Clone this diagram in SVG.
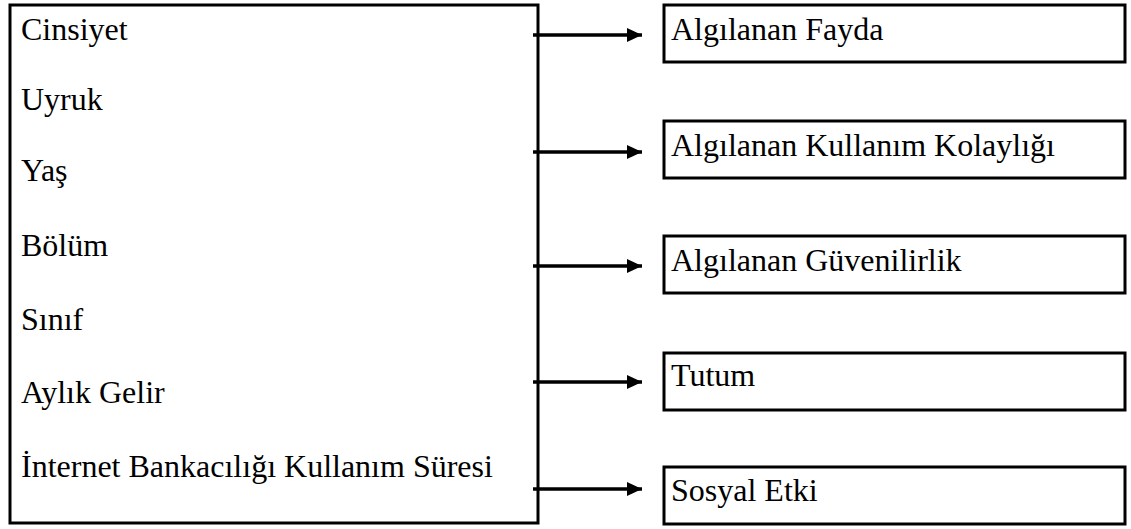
<svg xmlns="http://www.w3.org/2000/svg" width="1131" height="529" viewBox="0 0 1131 529">
<style>
.box{fill:#fff;stroke:#000;stroke-width:3}
.t{font-family:"Liberation Serif","Times New Roman",serif;font-size:32px;fill:#000}
.c{stroke:#000;stroke-width:3.5;fill:none}
</style>
<defs>
<marker id="ah" markerWidth="16" markerHeight="16" refX="15" refY="7" orient="auto" markerUnits="userSpaceOnUse">
<path d="M0,0 L15,7 L0,14 Z" fill="#000"/>
</marker>
</defs>
<rect width="1131" height="529" fill="#fff"/>
<g id="demografik">
<rect class="box" x="10" y="5" width="528" height="518"/>
<text class="t" x="21" y="40">Cinsiyet</text>
<text class="t" x="21" y="110">Uyruk</text>
<text class="t" x="21" y="181">Yaş</text>
<text class="t" x="21" y="256">Bölüm</text>
<text class="t" x="21" y="330">Sınıf</text>
<text class="t" x="21" y="403">Aylık Gelir</text>
<text class="t" x="21" y="477">İnternet Bankacılığı Kullanım Süresi</text>
</g>
<g id="fayda">
<rect class="box" x="664" y="5" width="461" height="57"/>
<text class="t" x="671" y="40">Algılanan Fayda</text>
</g>
<g id="kolaylik">
<rect class="box" x="664" y="121" width="461" height="57"/>
<text class="t" x="671" y="156">Algılanan Kullanım Kolaylığı</text>
</g>
<g id="guvenilirlik">
<rect class="box" x="664" y="236" width="461" height="57"/>
<text class="t" x="671" y="271">Algılanan Güvenilirlik</text>
</g>
<g id="tutum">
<rect class="box" x="664" y="353" width="461" height="57"/>
<text class="t" x="671" y="386">Tutum</text>
</g>
<g id="sosyal">
<rect class="box" x="664" y="467" width="461" height="57"/>
<text class="t" x="671" y="501">Sosyal Etki</text>
</g>
<g id="connectors">
<line class="c" x1="533" y1="35" x2="642" y2="35" marker-end="url(#ah)"/>
<line class="c" x1="533" y1="152" x2="642" y2="152" marker-end="url(#ah)"/>
<line class="c" x1="533" y1="266" x2="642" y2="266" marker-end="url(#ah)"/>
<line class="c" x1="533" y1="382" x2="642" y2="382" marker-end="url(#ah)"/>
<line class="c" x1="533" y1="489" x2="642" y2="489" marker-end="url(#ah)"/>
</g>
</svg>
